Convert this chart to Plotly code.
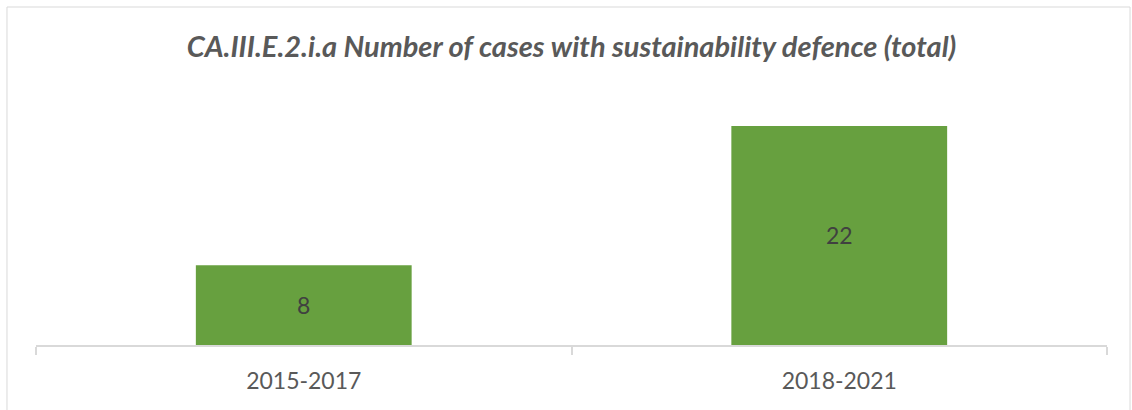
import plotly.graph_objects as go

categories = ["2015-2017", "2018-2021"]
values = [8, 22]
title_text = "CA.III.E.2.i.a Number of cases with sustainability defence (total)"

FONT = "Lato, Open Sans, sans-serif"

fig = go.Figure()
fig.add_trace(go.Bar(
    x=categories, y=values,
    text=[str(v) for v in values],
    textposition="inside", insidetextanchor="middle",
    textfont=dict(family=FONT, size=23, color="#404040"),
    marker=dict(color="#67A03F", line=dict(width=0)),
    hoverinfo="skip",
))

fig.update_layout(
    width=1132, height=410,
    margin=dict(l=36, r=25, t=96, b=65),
    paper_bgcolor="white", plot_bgcolor="white",
    bargap=0.597,
    showlegend=False,
    title=dict(
        text="<b><i>" + title_text + "</i></b>",
        x=0.5, xanchor="center", xref="paper",
        y=1 - 47 / 410, yanchor="middle",
        font=dict(family=FONT, size=29, color="#595959"),
    ),
    xaxis=dict(
        showline=True, linecolor="#D9D9D9", linewidth=1.5,
        ticks="outside", tickson="boundaries", ticklen=8, tickcolor="#D9D9D9", tickwidth=1.5,
        ticklabelstandoff=15,
        tickfont=dict(family=FONT, size=23, color="#595959"),
        showgrid=False, zeroline=False,
    ),
    yaxis=dict(range=[0, 25], visible=False, showgrid=False, zeroline=False),
    shapes=[dict(
        type="rect", xref="paper", yref="paper",
        x0=-0.0271, x1=1.0215, y0=-0.4, y1=1.3574,
        line=dict(color="#D9D9D9", width=1), fillcolor="rgba(0,0,0,0)", layer="below",
    )],
)

fig.write_html("out.html", config={"displayModeBar": False},
               post_script="document.body.style.margin='0';")
